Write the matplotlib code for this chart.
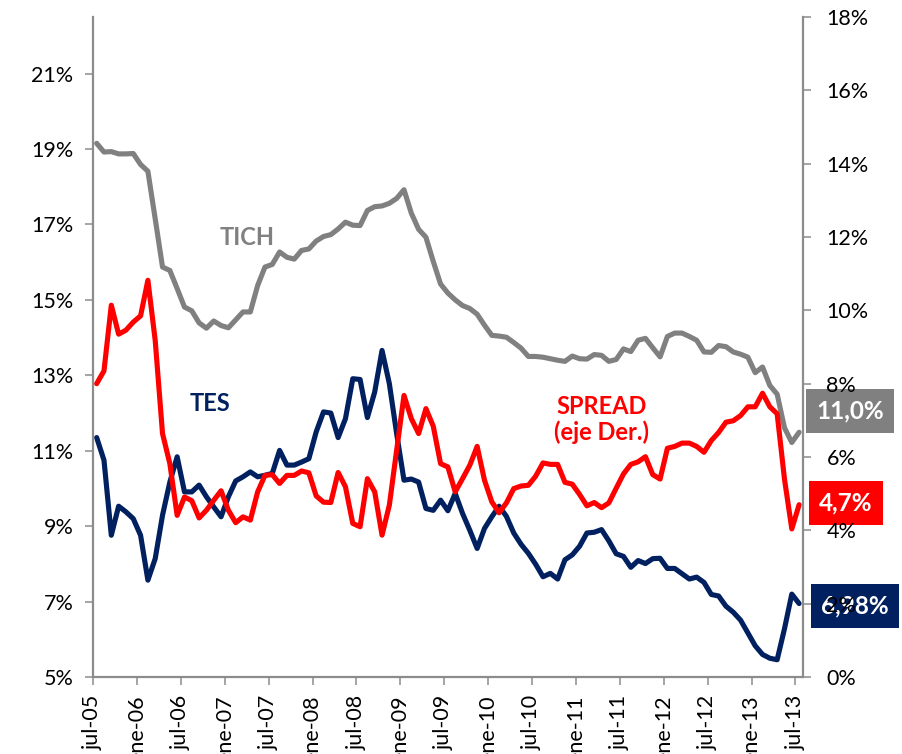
import numpy as np
import matplotlib
matplotlib.use("Agg")
import matplotlib.pyplot as plt

plt.rcParams['font.family'] = ['Lato', 'DejaVu Sans']

# monthly series jul-05 .. jul-13 (97 points), % values
tich = [19.15, 18.92, 18.93, 18.87, 18.87, 18.88, 18.59, 18.41, 17.15, 15.87,
        15.78, 15.3, 14.81, 14.71, 14.39, 14.25, 14.44, 14.32, 14.26, 14.47,
        14.68, 14.68, 15.38, 15.87, 15.94, 16.27, 16.13, 16.08, 16.31, 16.35,
        16.56, 16.68, 16.73, 16.88, 17.06, 16.98, 16.97, 17.37, 17.47, 17.49,
        17.56, 17.69, 17.92, 17.3, 16.87, 16.66, 16.02, 15.42, 15.18, 15.0,
        14.85, 14.77, 14.62, 14.33, 14.06, 14.04, 14.01, 13.87, 13.72, 13.5,
        13.5, 13.48, 13.44, 13.4, 13.37, 13.51, 13.44, 13.43, 13.55, 13.53,
        13.37, 13.42, 13.7, 13.63, 13.93, 13.98, 13.73, 13.49, 14.03, 14.12,
        14.12, 14.03, 13.93, 13.62, 13.61, 13.79, 13.76, 13.62, 13.56, 13.48,
        13.07, 13.22, 12.73, 12.5, 11.61, 11.22, 11.49]
tes = [11.35, 10.75, 8.76, 9.53, 9.38, 9.2, 8.76, 7.57, 8.14, 9.29,
       10.17, 10.84, 9.91, 9.91, 10.09, 9.78, 9.51, 9.25, 9.78, 10.2,
       10.31, 10.44, 10.31, 10.35, 10.4, 11.01, 10.62, 10.62, 10.7, 10.79,
       11.5, 12.03, 12.0, 11.35, 11.85, 12.91, 12.89, 11.88, 12.56, 13.66,
       12.78, 11.45, 10.22, 10.25, 10.17, 9.47, 9.42, 9.69, 9.41, 9.87,
       9.34, 8.89, 8.41, 8.94, 9.25, 9.53, 9.26, 8.82, 8.52, 8.28,
       7.99, 7.66, 7.75, 7.6, 8.11, 8.24, 8.47, 8.82, 8.84, 8.91,
       8.61, 8.27, 8.2, 7.91, 8.09, 8.01, 8.14, 8.15, 7.88, 7.88,
       7.74, 7.6, 7.65, 7.51, 7.19, 7.15, 6.88, 6.72, 6.51, 6.17,
       5.83, 5.6, 5.5, 5.46, 6.28, 7.2, 6.95]
spread = [8.0, 8.35, 10.14, 9.35, 9.46, 9.68, 9.85, 10.82, 9.18, 6.64,
          5.82, 4.41, 4.91, 4.81, 4.34, 4.55, 4.82, 5.08, 4.55, 4.21,
          4.37, 4.28, 5.05, 5.5, 5.52, 5.28, 5.5, 5.5, 5.62, 5.57,
          4.94, 4.77, 4.76, 5.58, 5.19, 4.19, 4.1, 5.41, 5.05, 3.87,
          4.69, 6.19, 7.68, 7.05, 6.64, 7.32, 6.84, 5.82, 5.73, 5.05,
          5.41, 5.78, 6.29, 5.37, 4.78, 4.48, 4.75, 5.14, 5.21, 5.23,
          5.48, 5.84, 5.8, 5.8, 5.31, 5.26, 4.98, 4.67, 4.76, 4.62,
          4.75, 5.15, 5.54, 5.8, 5.87, 6.01, 5.52, 5.4, 6.24, 6.29,
          6.38, 6.38, 6.29, 6.13, 6.45, 6.67, 6.95, 6.99, 7.13, 7.37,
          7.37, 7.74, 7.37, 7.18, 5.4, 4.04, 4.7]
tick_labels = ["jul-05", "ene-06", "jul-06", "ene-07", "jul-07", "ene-08", "jul-08",
               "ene-09", "jul-09", "ene-10", "jul-10", "ene-11", "jul-11", "ene-12",
               "jul-12", "ene-13", "jul-13"]
end_labels = ["11,0%", "4,7%", "6,98%"]

GREY, NAVY, RED = "#808080", "#002060", "#FF0000"
AXC = "#8c8c8c"

n = len(tich)
x = np.arange(n) + 0.5

fig = plt.figure(figsize=(9.03, 7.54), dpi=100)
ax = fig.add_axes([0.103, 0.102, 0.786, 0.8755])
ax2 = ax.twinx()

kw = dict(lw=3.7, solid_joinstyle="round", solid_capstyle="round")
ax.plot(x, tich, color=GREY, **kw)
ax.plot(x, tes, color=NAVY, **kw)
ax2.plot(x, spread, color=RED, **kw)

ax.set_xlim(0, n)
ax.set_ylim(5, 22.5)
ax2.set_ylim(0, 18)
ax.set_yticks(np.arange(5, 22, 2))
ax.set_yticklabels([f"{v}%" for v in range(5, 22, 2)])
ax2.set_yticks(np.arange(0, 19, 2))
ax2.set_yticklabels([f"{v}%" for v in range(0, 19, 2)])
ax.set_xticks(np.arange(0, n, 6))
ax.set_xticklabels(tick_labels, rotation=90, va="top", ha="center")

for a in (ax, ax2):
    for s in a.spines.values():
        s.set_color(AXC); s.set_linewidth(1.6)
    a.spines["top"].set_visible(False)
ax.spines["right"].set_visible(False)
ax2.spines["left"].set_visible(False)
ax2.spines["bottom"].set_visible(False)
ax.tick_params(axis="y", length=6, width=1.1, color=AXC, labelsize=15.5, pad=8)
ax.tick_params(axis="x", length=6, width=1.1, color=AXC, labelsize=15.5, pad=7)
ax2.tick_params(axis="y", length=6, width=1.1, color=AXC, labelsize=15.5, pad=11)

ax.text(21.1, 16.66, "TICH", color=GREY, fontsize=17, fontweight="bold", ha="center", va="center")
ax.text(16.0, 12.26, "TES", color=NAVY, fontsize=17, fontweight="bold", ha="center", va="center")
ax.text(69.5, 11.83, "SPREAD\n(eje Der.)", color=RED, fontsize=17, fontweight="bold",
        ha="center", va="center", linespacing=1.15)

# value boxes at the right end (drawn below axes so tick labels stay on top)
for lab, col, (bx, by) in zip(end_labels, [GREY, RED, NAVY],
                              [(850 / 903, 1 - 411 / 754), (846 / 903, 1 - 503 / 754), (855 / 903, 1 - 606 / 754)]):
    fig.text(bx, by, lab, color="white", fontsize=17.5, fontweight="bold", ha="center", va="center",
             zorder=-1, bbox=dict(boxstyle="square,pad=0.42", fc=col, ec="none"))

fig.savefig("out.png", dpi=100)
